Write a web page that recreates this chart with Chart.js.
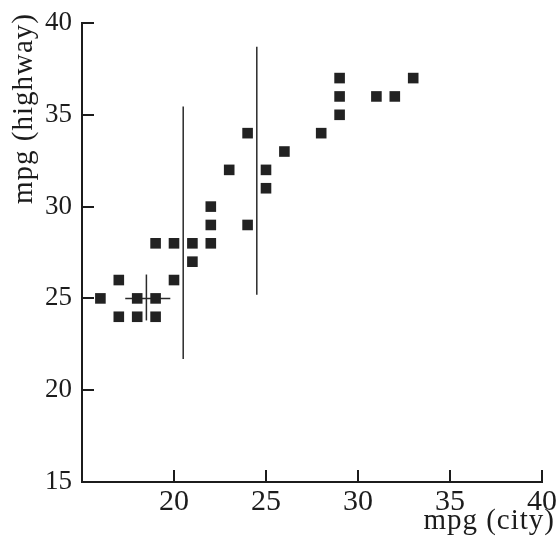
<!DOCTYPE html>
<html>
<head>
<meta charset="utf-8">
<script src="https://cdn.jsdelivr.net/npm/chart.js@4.4.1/dist/chart.umd.min.js"></script>
<style>
  html, body { margin: 0; padding: 0; background: #ffffff; }
  #c { display: block; }
</style>
</head>
<body>
<canvas id="c" width="560" height="540"></canvas>
<script>
// Data
const cityMpg    = [16, 17, 17, 18, 18, 19, 19, 19, 20, 20, 21, 21, 22, 22, 22, 23, 24, 24, 25, 25, 26, 28, 29, 29, 29, 31, 32, 33];
const highwayMpg = [25, 26, 24, 25, 24, 28, 25, 24, 28, 26, 28, 27, 30, 29, 28, 32, 34, 29, 32, 31, 33, 34, 37, 36, 35, 36, 36, 37];

// Vertical range lines (x position, low, high)
const rangeX    = [18.5, 20.5, 24.5];
const rangeLow  = [23.8, 21.7, 25.2];
const rangeHigh = [26.3, 35.45, 38.7];

// Horizontal range line (y position, left, right)
const hRangeY    = [25];
const hRangeLow  = [17.35];
const hRangeHigh = [19.8];

const xTicks = [15, 20, 25, 30, 35, 40];
const yTicks = [15, 20, 25, 30, 35, 40];

const xTitle = 'mpg (city)';
const yTitle = 'mpg (highway)';

const ink = '#1c1c1c';
const serif = '"Liberation Serif", "Times New Roman", Times, serif';

// Draws the two axis titles next to their scales (text kept as real canvas text)
const axisTitlePlugin = {
  id: 'axisTitles',
  afterDraw(chart) {
    const ctx = chart.ctx;
    const xs = chart.scales.x, ys = chart.scales.y;
    ctx.save();
    ctx.fillStyle = ink;
    ctx.font = '29px ' + serif;
    if ('letterSpacing' in ctx) ctx.letterSpacing = '1px';
    ctx.textAlign = 'right';
    ctx.textBaseline = 'alphabetic';
    ctx.fillText(xTitle, xs.right + 13, xs.bottom - 11);
    ctx.translate(ys.left + 32, ys.top - 10);
    ctx.rotate(-Math.PI / 2);
    ctx.textAlign = 'right';
    ctx.fillText(yTitle, 0, 0);
    ctx.restore();
  }
};

function build() {
  const datasets = [];
  datasets.push({
    label: 'cars',
    data: cityMpg.map((x, i) => ({ x: x, y: highwayMpg[i] })),
    pointStyle: 'rect',
    pointRadius: 7.5,
    backgroundColor: '#222222',
    borderColor: '#222222',
    borderWidth: 0,
    showLine: false,
    order: 0
  });
  rangeX.forEach((x, i) => {
    datasets.push({
      label: 'vrange' + i,
      data: [{ x: x, y: rangeLow[i] }, { x: x, y: rangeHigh[i] }],
      showLine: true,
      pointRadius: 0,
      borderColor: '#2a2a2a',
      borderWidth: 1.5,
      order: 1
    });
  });
  hRangeY.forEach((y, i) => {
    datasets.push({
      label: 'hrange' + i,
      data: [{ x: hRangeLow[i], y: y }, { x: hRangeHigh[i], y: y }],
      showLine: true,
      pointRadius: 0,
      borderColor: '#2a2a2a',
      borderWidth: 1.5,
      order: 1
    });
  });

  new Chart(document.getElementById('c'), {
    type: 'scatter',
    data: { datasets: datasets },
    plugins: [axisTitlePlugin],
    options: {
      responsive: false,
      devicePixelRatio: 1,
      animation: false,
      events: [],
      layout: { padding: { top: 23, right: 18, bottom: 0, left: 0 } },
      plugins: { legend: { display: false }, tooltip: { enabled: false } },
      scales: {
        x: {
          type: 'linear',
          min: 15, max: 40,
          afterBuildTicks: s => { s.ticks = xTicks.map(v => ({ value: v })); },
          afterFit: s => { s.height = 58; s.paddingLeft = 0; s.paddingRight = 0; },
          border: { display: true, color: ink, width: 2 },
          grid: { display: true, drawOnChartArea: false, drawTicks: true, tickLength: -12, color: ink, lineWidth: 2 },
          ticks: {
            padding: 14,
            color: ink,
            font: { family: serif, size: 30 },
            maxRotation: 0,
            callback: v => (v === 15 ? '' : String(v))
          },
          title: { display: false }
        },
        y: {
          type: 'linear',
          min: 15, max: 40,
          afterBuildTicks: s => { s.ticks = yTicks.map(v => ({ value: v })); },
          afterFit: s => { s.width = 82; s.paddingTop = 0; s.paddingBottom = 0; },
          border: { display: true, color: ink, width: 2 },
          grid: { display: true, drawOnChartArea: false, drawTicks: true, tickLength: -12, color: ink, lineWidth: 2 },
          ticks: {
            padding: 22,
            color: ink,
            font: { family: serif, size: 27 },
            callback: v => String(v)
          },
          title: { display: false }
        }
      }
    }
  });
}

if (document.fonts && document.fonts.load) {
  Promise.all([
    document.fonts.load('30px "Liberation Serif"'),
    document.fonts.load('30px "Times New Roman"')
  ]).then(build, build);
} else {
  build();
}
</script>
</body>
</html>
